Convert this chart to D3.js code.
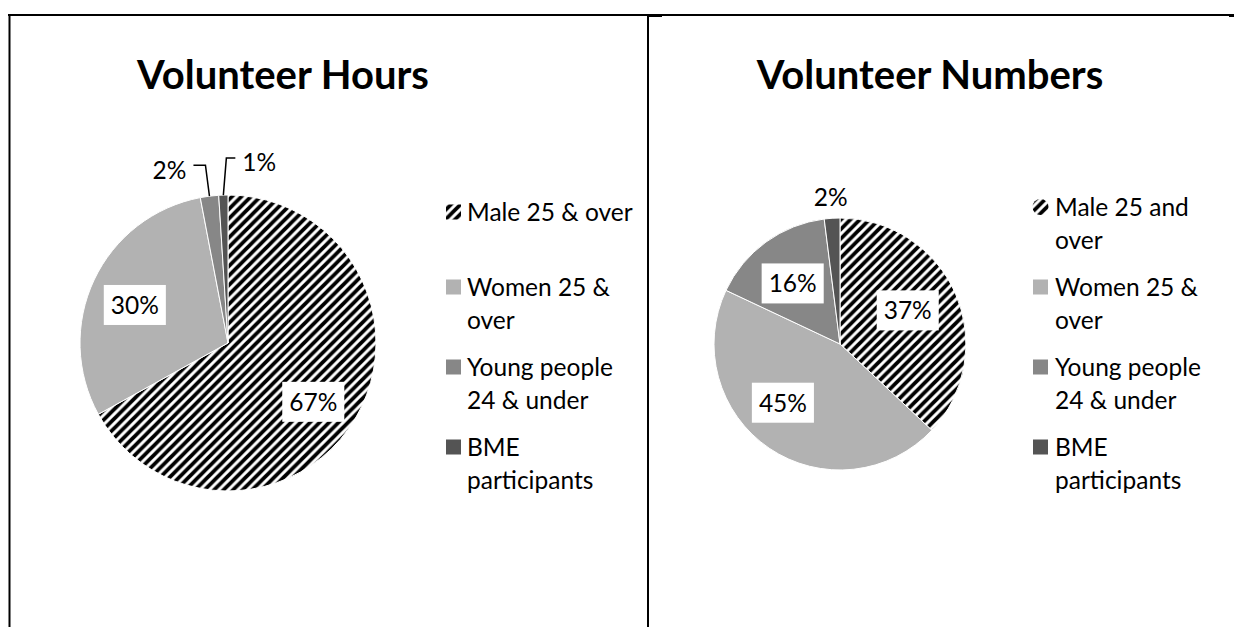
<!DOCTYPE html>
<html><head><meta charset="utf-8">
<script src="https://cdn.jsdelivr.net/npm/d3@7"></script>
<style>
body{margin:0;background:#fff}
svg{display:block}
text{font-family:Lato,"Open Sans",sans-serif;fill:#000}
</style>
</head><body>
<svg id="c" width="1234" height="627"></svg>
<script>
// ---------- data ----------
const hoursTitle = "Volunteer Hours";
const numbersTitle = "Volunteer Numbers";
const hoursCategories = ["Male 25 & over", "Women 25 & over", "Young people 24 & under", "BME participants"];
const hoursValues = [67, 30, 2, 1];
const hoursLegendLines = [["Male 25 & over"], ["Women 25 &", "over"], ["Young people", "24 & under"], ["BME", "participants"]];
const numbersCategories = ["Male 25 and over", "Women 25 & over", "Young people 24 & under", "BME participants"];
const numbersValues = [37, 45, 16, 2];
const numbersLegendLines = [["Male 25 and", "over"], ["Women 25 &", "over"], ["Young people", "24 & under"], ["BME", "participants"]];

// ---------- styles ----------
const sliceFills = ["url(#hatch)", "#b2b2b2", "#878787", "#545454"];
const labelFont = 24.5, legendFont = 24.5, titleFont = 40;

const svg = d3.select("#c");
const defs = svg.append("defs");
const P = 9.5;
const pat = defs.append("pattern").attr("id", "hatch")
  .attr("patternUnits", "userSpaceOnUse").attr("width", P).attr("height", P);
pat.append("rect").attr("width", P).attr("height", P).attr("fill", "#fff");
pat.append("path").attr("d", `M${-P/4},${P/4} L${P/4},${-P/4} M0,${P} L${P},0 M${P*0.75},${P*1.25} L${P*1.25},${P*0.75}`)
  .attr("stroke", "#000").attr("stroke-width", 3.8);

// frame
const frame = svg.append("g").attr("stroke", "#000").attr("stroke-width", 2);
frame.append("line").attr("x1", 8).attr("x2", 1234).attr("y1", 15).attr("y2", 15);
frame.append("line").attr("x1", 9.5).attr("x2", 9.5).attr("y1", 14).attr("y2", 627);
frame.append("line").attr("x1", 648).attr("x2", 648).attr("y1", 14).attr("y2", 627);
frame.append("line").attr("x1", 648).attr("x2", 662).attr("y1", 15.5).attr("y2", 15.5).attr("stroke-width", 3);
frame.append("line").attr("x1", 1229).attr("x2", 1234).attr("y1", 15.5).attr("y2", 15.5).attr("stroke-width", 3);

function drawChart(cfg) {
  const g = svg.append("g");
  g.append("text").attr("x", cfg.titleX).attr("y", cfg.titleY)
    .attr("text-anchor", "middle").attr("font-weight", "bold")
    .attr("font-size", titleFont).text(cfg.title);

  const data = cfg.categories.map((c, i) => ({cat: c, v: cfg.values[i], i}));
  const arcs = d3.pie().sort(null).value(d => d.v)(data);
  const arc = d3.arc().innerRadius(0).outerRadius(cfg.r);
  const pg = g.append("g").attr("transform", `translate(${cfg.cx},${cfg.cy})`);
  pg.selectAll("path.slice").data(arcs).join("path").attr("class", "slice")
    .attr("d", arc).attr("fill", d => sliceFills[d.data.i])
    .attr("stroke", "#fff").attr("stroke-width", 1);

  arcs.forEach((a, idx) => {
    const spec = cfg.labels[idx];
    const mid = (a.startAngle + a.endAngle) / 2;
    const txt = a.data.v + "%";
    if (spec.type === "in" || spec.type === "out") {
      const ang = mid + (spec.da || 0) * Math.PI / 180;
      const rr = spec.k * cfg.r;
      const x = rr * Math.sin(ang), y = -rr * Math.cos(ang);
      const lg = pg.append("g");
      const t = lg.append("text").attr("x", x).attr("y", y).attr("dy", "0.36em")
        .attr("text-anchor", "middle").attr("font-size", labelFont).text(txt);
      if (spec.type === "in") {
        const bb = t.node().getBBox();
        lg.insert("rect", "text").attr("x", bb.x - 7).attr("y", y - 20)
          .attr("width", bb.width + 14).attr("height", 40).attr("fill", "#fff");
      }
    } else if (spec.type === "leader") {
      const ex = cfg.r * Math.sin(mid), ey = -cfg.r * Math.cos(mid);
      const elbowY = ey - spec.up;
      const elbowX = ex + (spec.lean || 0);
      const endX = elbowX + spec.side * spec.run;
      pg.append("path")
        .attr("d", `M${ex},${ey} L${elbowX},${elbowY} L${endX},${elbowY}`)
        .attr("fill", "none").attr("stroke", "#000").attr("stroke-width", 1.5);
      pg.append("text").attr("x", endX + spec.side * 7).attr("y", elbowY + spec.ty)
        .attr("dy", "0.36em").attr("text-anchor", spec.side < 0 ? "end" : "start")
        .attr("font-size", labelFont).text(txt);
    }
  });

  // legend
  const lgG = g.append("g");
  cfg.legendLines.forEach((lines, i) => {
    const y0 = cfg.legendY + i * 80 + (lines.length === 1 ? 5 : 0);
    if (i === 0 && cfg.roundMarker) {
      lgG.append("circle").attr("cx", cfg.markerX + 7.5).attr("cy", y0).attr("r", 8)
        .attr("fill", sliceFills[i]);
    } else {
      lgG.append("rect").attr("x", cfg.markerX).attr("y", y0 - 7.5)
        .attr("width", 15).attr("height", 15).attr("fill", sliceFills[i]);
    }
    lines.forEach((ln, j) => {
      lgG.append("text").attr("x", cfg.textX).attr("y", y0 + j * 33).attr("dy", "0.36em")
        .attr("font-size", legendFont).text(ln);
    });
  });
}

drawChart({
  title: hoursTitle, titleX: 283, titleY: 89,
  categories: hoursCategories, values: hoursValues, legendLines: hoursLegendLines,
  cx: 228, cy: 343, r: 148,
  labels: [
    {type: "in", k: 0.70, da: 4},
    {type: "in", k: 0.68, da: -3},
    {type: "leader", side: -1, up: 31, run: 12, lean: -4, ty: 5},
    {type: "leader", side: 1, up: 37, run: 9, lean: 3, ty: 4}
  ],
  legendY: 207, markerX: 446, textX: 467, roundMarker: false
});

drawChart({
  title: numbersTitle, titleX: 930, titleY: 89,
  categories: numbersCategories, values: numbersValues, legendLines: numbersLegendLines,
  cx: 840, cy: 344, r: 126,
  labels: [
    {type: "in", k: 0.60, da: -3},
    {type: "in", k: 0.65, da: 10},
    {type: "in", k: 0.61, da: -2},
    {type: "out", k: 1.17, da: 0}
  ],
  legendY: 207, markerX: 1033, textX: 1055, roundMarker: true
});
</script>
</body></html>
